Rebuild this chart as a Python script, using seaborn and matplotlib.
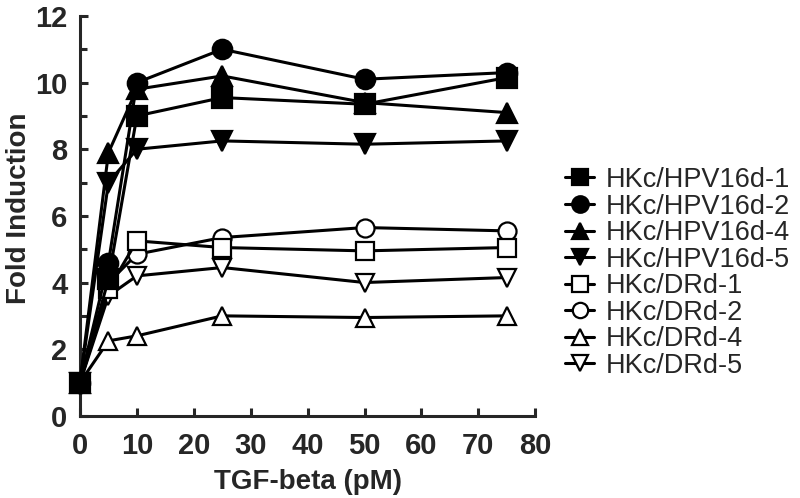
import matplotlib

matplotlib.use("Agg")
import matplotlib.pyplot as plt
import pandas as pd
import seaborn as sns
from matplotlib.ticker import MultipleLocator

dose = [0, 5, 10, 25, 50, 75]
hpv16d_1 = [1.0, 4.1, 9.0, 9.55, 9.35, 10.15]
hpv16d_2 = [1.0, 4.6, 10.0, 11.0, 10.1, 10.3]
hpv16d_4 = [1.0, 7.9, 9.8, 10.2, 9.4, 9.1]
hpv16d_5 = [1.0, 7.0, 8.0, 8.25, 8.15, 8.25]
drd_1 = [1.0, 3.8, 5.25, 5.05, 4.95, 5.05]
drd_2 = [1.0, 4.0, 4.85, 5.35, 5.65, 5.55]
drd_4 = [1.0, 2.25, 2.4, 3.0, 2.95, 3.0]
drd_5 = [1.0, 3.6, 4.2, 4.45, 4.0, 4.15]

labels = ["HKc/HPV16d-1", "HKc/HPV16d-2", "HKc/HPV16d-4", "HKc/HPV16d-5",
          "HKc/DRd-1", "HKc/DRd-2", "HKc/DRd-4", "HKc/DRd-5"]
series = [hpv16d_1, hpv16d_2, hpv16d_4, hpv16d_5, drd_1, drd_2, drd_4, drd_5]
markers = ["s", "o", "^", "v", "s", "o", "^", "v"]
filled = [True, True, True, True, False, False, False, False]

sns.set_theme(style="ticks")
plt.rcParams["font.family"] = ["Liberation Sans", "DejaVu Sans"]
plt.rcParams["font.weight"] = "bold"
plt.rcParams["axes.labelweight"] = "bold"

fig, ax = plt.subplots(figsize=(8, 4.98), dpi=100)
fig.subplots_adjust(left=0.1, right=0.669, top=0.968, bottom=0.165)

for i, (label, values, marker, fill) in enumerate(zip(labels, series, markers, filled)):
    df = pd.DataFrame({"dose": dose, "fold": values})
    sns.lineplot(
        data=df, x="dose", y="fold", ax=ax, label=label,
        color="black", linewidth=2.2, marker=marker,
        markersize=14 if fill else 13,
        markerfacecolor="black" if fill else "white",
        markeredgecolor="black", markeredgewidth=1.6,
        zorder=10 - i, clip_on=False,
    )

ax.set_xlim(0, 80)
ax.set_ylim(0, 12)
ax.xaxis.set_major_locator(MultipleLocator(10))
ax.yaxis.set_major_locator(MultipleLocator(2))
ax.yaxis.set_minor_locator(MultipleLocator(1))
for side in ["top", "right"]:
    ax.spines[side].set_visible(False)
for side in ["left", "bottom"]:
    ax.spines[side].set_linewidth(2.2)
ax.tick_params(which="both", direction="in", width=2.2)
ax.tick_params(which="major", length=6, labelsize=21)
ax.tick_params(which="minor", length=5)
ax.tick_params(axis="y", which="major", pad=9)
ax.tick_params(axis="x", which="major", pad=12)
ax.set_xlabel("TGF-beta (pM)", fontsize=20, fontweight="bold", labelpad=6)
ax.set_ylabel("Fold Induction", fontsize=20, fontweight="bold")
ax.yaxis.set_label_coords(-0.106, 0.52)

leg = ax.legend(loc="center left", bbox_to_anchor=(1.066, 0.3575), frameon=False,
                prop={"size": 19.5, "weight": "normal"}, handlelength=1.08,
                handletextpad=0.43, labelspacing=0.02, borderpad=0,
                borderaxespad=0, markerscale=0.85)

fig.savefig("out.png", dpi=100)
